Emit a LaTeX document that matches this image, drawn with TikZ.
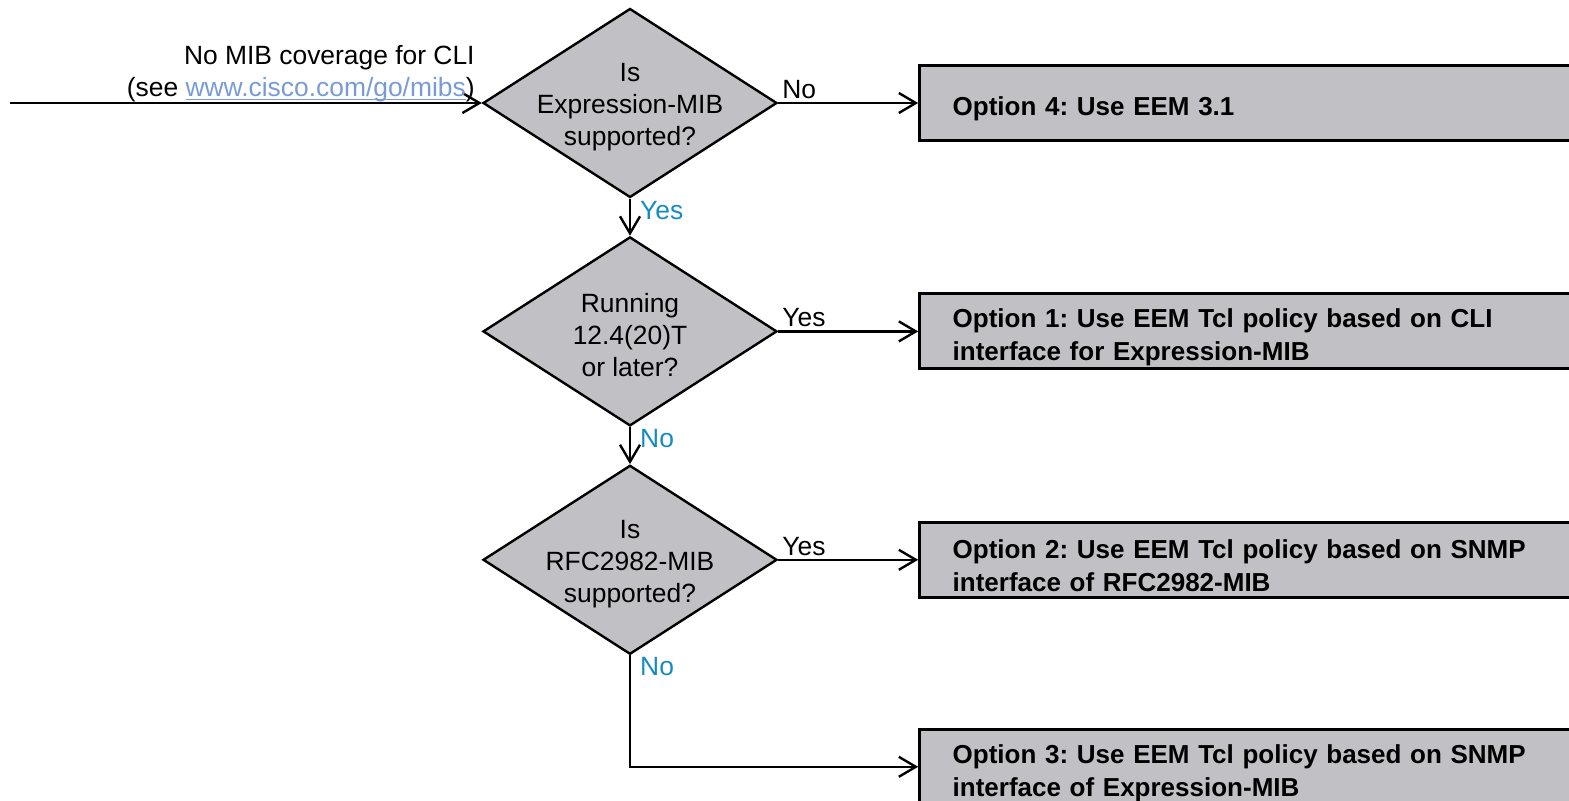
\documentclass[tikz,border=0pt]{standalone}
\usepackage{fontspec}
\setmainfont{Liberation Sans}
\newcommand{\linkline}[1]{{\setbox0\hbox{#1}\rlap{\rule[-1.8pt]{\wd0}{0.6pt}}\box0}}
\frenchspacing
\usetikzlibrary{positioning,arrows.meta,shapes.geometric}
\definecolor{boxgray}{RGB}{192,192,197}
\definecolor{ansblue}{RGB}{20,140,195}
\definecolor{linkblue}{RGB}{120,155,215}

\begin{document}
\begin{tikzpicture}[x=0.5pt, y=-0.5pt,
    decision/.style={diamond, draw, fill=boxgray, line width=1.2pt, minimum width=147pt, minimum height=94.5pt, inner sep=0pt},
    dtext/.style={align=center, inner sep=0pt, yshift=-2pt, font=\fontsize{13.2}{16}\selectfont},
    option/.style={rectangle, draw, fill=boxgray, line width=1.5pt, minimum height=37.5pt, text width=318pt, inner xsep=16.5pt, inner ysep=0pt, align=left, font=\fontsize{13}{16.5}\selectfont\bfseries, execute at begin node={\rule{0pt}{15.5pt}}},
    flow/.style={-{Straight Barb[length=8.5pt, width=10pt]}, line width=1.2pt},
    ans/.style={inner sep=1.5pt, font=\fontsize{13.2}{16}\selectfont}]
        \useasboundingbox (0,0) rectangle (1569,801);
        \clip (0,0) rectangle (1569,801);

        %% Decisions
        \node[decision, label={[dtext]center:Is\\Expression-MIB\\supported?}] (d1) at (630,103) {};
        \node[decision, below=18.5pt of d1, label={[dtext]center:Running\\12.4(20)T\\or later?}] (d2) {};
        \node[decision, below=18.5pt of d2, label={[dtext]center:Is\\RFC2982-MIB\\supported?}] (d3) {};

        %% Options
        \node[option, right=70pt of d1] (opt4) {Option 4: Use EEM 3.1};
        \node[option, right=70pt of d2] (opt1) {Option 1: Use EEM Tcl policy based on CLI\\interface for Expression-MIB};
        \node[option, right=70pt of d3] (opt2) {Option 2: Use EEM Tcl policy based on SNMP\\interface of RFC2982-MIB};
        \node[option, below=64.5pt of opt2] (opt3) {Option 3: Use EEM Tcl policy based on SNMP\\interface of Expression-MIB};

        %% Input
        \coordinate (in) at (10,103);
        \draw[flow] (in) -- node[pos=1, anchor=south east, align=right, inner xsep=3pt, inner ysep=0pt, font=\fontsize{13.2}{16}\selectfont] {No MIB coverage for CLI\\(see \textcolor{linkblue}{\linkline{www.cisco.com/go/mibs}})} (d1.west);

        %% Answers
        \draw[flow] (d1.east) -- node[ans, pos=0, anchor=south west] {No} (opt4.west);
        \draw[flow] (d1.south) -- node[ans, pos=0, anchor=north west, xshift=3pt, yshift=1pt, text=ansblue] {Yes} (d2.north);
        \draw[flow] (d2.east) -- node[ans, pos=0, anchor=south west] {Yes} (opt1.west);
        \draw[flow] (d2.south) -- node[ans, pos=0, anchor=north west, xshift=3pt, yshift=1pt, text=ansblue] {No} (d3.north);
        \draw[flow] (d3.east) -- node[ans, pos=0, anchor=south west] {Yes} (opt2.west);
        \draw[flow] (d3.south) |- node[ans, pos=0, anchor=north west, xshift=3pt, yshift=1pt, text=ansblue] {No} (opt3.west);
\end{tikzpicture}
\end{document}
